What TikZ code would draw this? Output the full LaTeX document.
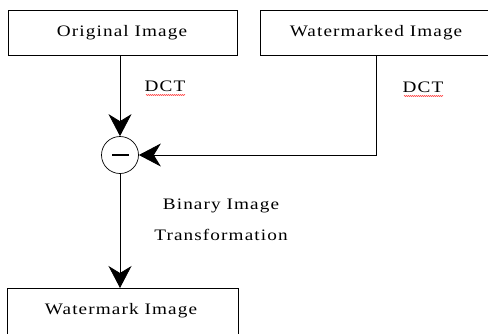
\documentclass[tikz,border=0pt]{standalone}
\usepackage{fontspec}
\setmainfont{Liberation Serif}[FakeStretch=1.2, LetterSpace=7]
\usetikzlibrary{arrows.meta,decorations.pathmorphing}
\begin{document}
\begin{tikzpicture}[x=1pt,y=-1pt,
  every node/.style={font=\fontsize{16}{18}\selectfont, inner sep=0pt},
  box/.style={draw, line width=0.8pt},
  conn/.style={line width=0.8pt, -{Stealth[length=22pt,width=23pt,inset=7pt]}},
  squiggle/.style={red!80, line width=0.4pt, decorate,
    decoration={zigzag, amplitude=0.6pt, segment length=2pt}}]
  \useasboundingbox (0,0) rectangle (488,333);
  \begin{scope}
    \clip (0,0) rectangle (488,333);
    % boxes
    \draw[box] (8,10) rectangle (237,55);
    \draw[box] (260,10) rectangle (500,55);
    \draw[box] (7,288) rectangle (238,345);
  \end{scope}
  \node (orig) at (122,33) {Original Image};
  \node (wmd) at (376,33) {Watermarked Image};
  \node (wm) at (121,311) {Watermark Image};
  \coordinate (origB) at (120,55);
  \coordinate (wmdB) at (376,55);
  \coordinate (wmT) at (120,288);
  % subtraction junction
  \node[draw, circle, minimum size=37pt, line width=0.7pt] (minus) at (120,155) {};
  \draw[line width=2.2pt] (112,155) -- (129,155);
  % connectors
  \draw[conn] (origB) -- (minus.north);
  \draw[conn] (wmdB) |- (minus.east);
  \draw[conn] (minus.south) -- (wmT);
  % labels
  \node (dct1) at (165,86) {DCT};
  \node (dct2) at (423,87) {DCT};
  \draw[squiggle] (146,95) -- (185,95);
  \draw[squiggle] (404,96) -- (443,96);
  \node[align=center, font=\fontsize{16}{31}\selectfont] (bin) at (221,220) {Binary Image\\Transformation};
\end{tikzpicture}
\end{document}
